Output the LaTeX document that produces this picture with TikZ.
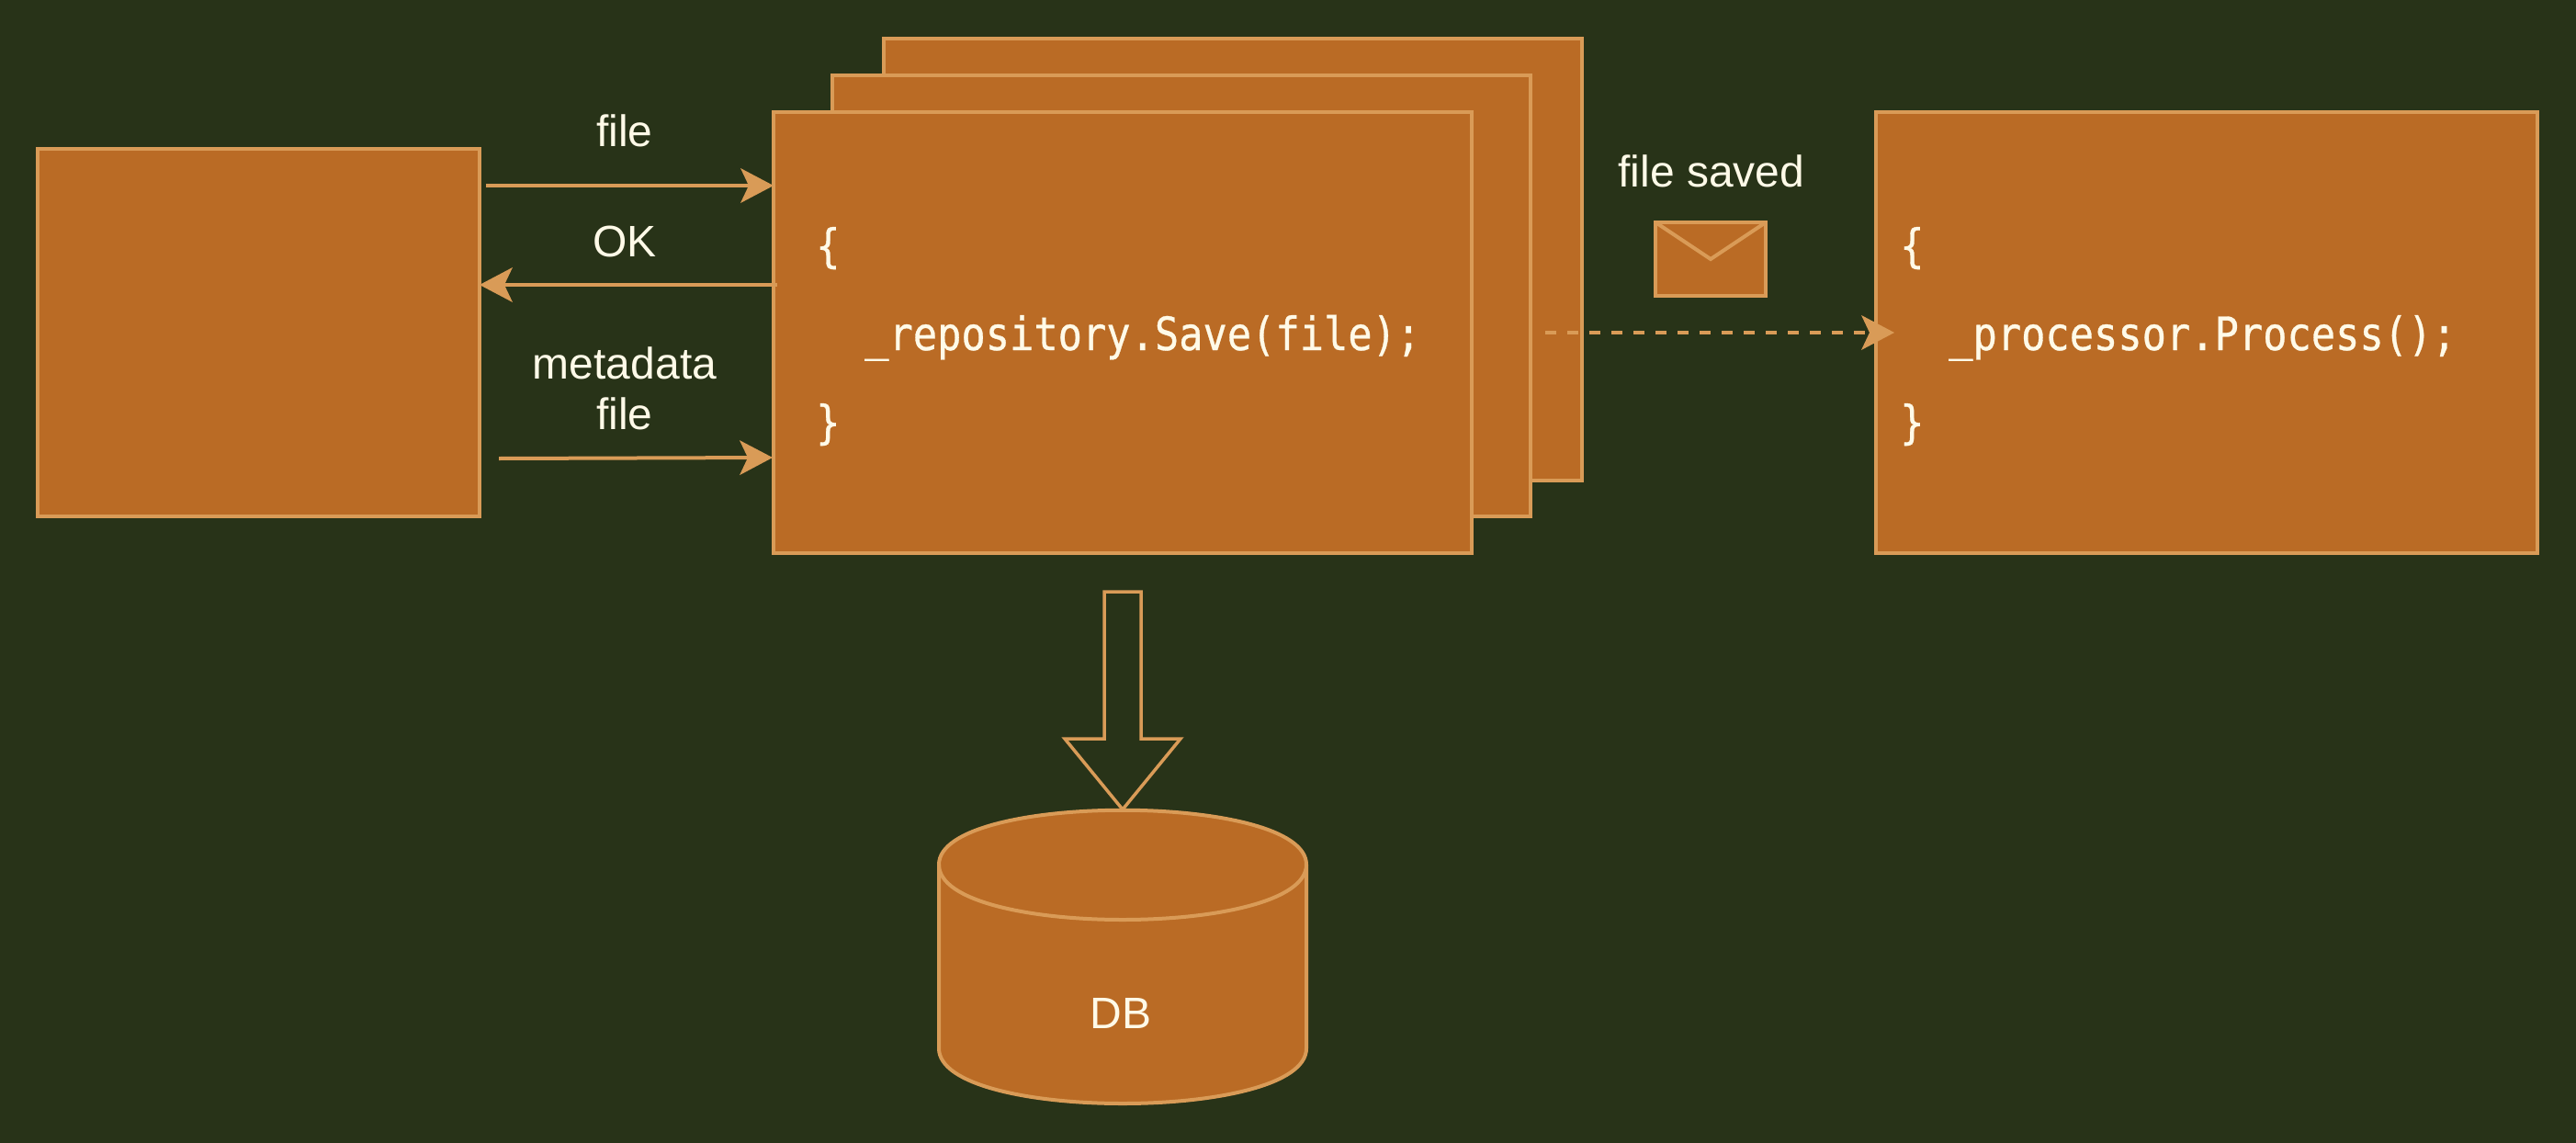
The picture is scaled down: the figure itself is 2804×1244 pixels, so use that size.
\documentclass[tikz,border=0pt]{standalone}
\usepackage{fontspec}
\setmainfont{Liberation Sans}
\newfontfamily\codefont[FakeStretch=0.874,FakeBold=0.6]{DejaVu Sans Mono}
\usetikzlibrary{arrows.meta}
\definecolor{bgc}{HTML}{283318}
\definecolor{fillc}{HTML}{BA6B25}
\definecolor{linec}{HTML}{D99B57}
\definecolor{textc}{HTML}{FFFAE8}
\tikzset{
  box/.style={draw=linec,fill=fillc,line width=4pt,outer sep=0pt,inner sep=0pt,rectangle},
  conn/.style={draw=linec,line width=4pt,-{Stealth[length=36pt,width=38pt,inset=9pt,line width=0pt,fill=linec]}},
  lbl/.style={text=textc,font=\fontsize{48}{55}\selectfont,inner sep=0pt,anchor=base},
  code/.style={text=textc,font=\fontsize{50}{55}\codefont,inner sep=0pt,anchor=base west},
}
\begin{document}
\begin{tikzpicture}[x=1pt,y=-1pt]
\useasboundingbox (0,0) rectangle (2804,1244);
\fill[bgc] (0,0) rectangle (2804,1244);
% boxes
\node[box,minimum width=481pt,minimum height=400pt] (client) at (281.5,362) {};
\node[box,minimum width=760pt,minimum height=481pt] (back) at (1342,282.5) {};
\node[box,minimum width=760pt,minimum height=480pt] (mid) at (1286,322) {};
\node[box,minimum width=760pt,minimum height=480pt] (front) at (1222,362) {};
\node[box,minimum width=720pt,minimum height=480pt] (proc) at (2402,362) {};
% code
\node[code] (c1) at (888,285) {\{};
\node[code] (c2) at (941,381) {\_repository.Save(file);};
\node[code] (c3) at (888,477) {\}};
\node[code] (p1) at (2068,285) {\{};
\node[code] (p2) at (2121,381) {\_processor.Process();};
\node[code] (p3) at (2068,477) {\}};
% arrows
\coordinate (filestart) at (529,202);
\coordinate (okstart) at (846,310);
\coordinate (metastart) at (543,499);
\coordinate (metaend) at (841,498);
\coordinate (dashstart) at (1682,362);
\draw[conn] (filestart) -- (front.west |- filestart);
\draw[conn,shorten <=-4pt] (front.west |- okstart) -- (client.east |- okstart);
\draw[conn] (metastart) -- (metaend);
\draw[conn,dash pattern=on 12pt off 12pt,shorten >=-20pt] (dashstart) -- (proc.west);
% labels
\node[lbl] (tfile) at (680,159) {file};
\node[lbl] (tok) at (680,279) {OK};
\node[lbl] (tmeta) at (680,412) {metadata};
\node[lbl] (tfile2) at (680,467) {file};
\node[lbl] (tsaved) at (1863,203) {file saved};
% envelope
\node[box,minimum width=120pt,minimum height=80pt] (env) at (1862,282) {};
\draw[draw=linec,line width=4pt] (env.north west) -- (env.center) -- (env.north east);
% block arrow
\draw[draw=linec,line width=3.5pt,miter limit=10] (1202,644) -- (1242,644) -- (1242,804) -- (1285,804) -- (1222,881) -- (1159,804) -- (1202,804) -- cycle;
% database
\filldraw[draw=linec,fill=fillc,line width=4pt] (1022,941) .. controls (1022,862) and (1422,862) .. (1422,941)
  -- (1422,1141) .. controls (1422,1221) and (1022,1221) .. (1022,1141) -- cycle;
\draw[draw=linec,line width=4pt] (1022,941) .. controls (1022,1021) and (1422,1021) .. (1422,941);
\node[lbl] (db) at (1220,1119) {DB};
\end{tikzpicture}
\end{document}
